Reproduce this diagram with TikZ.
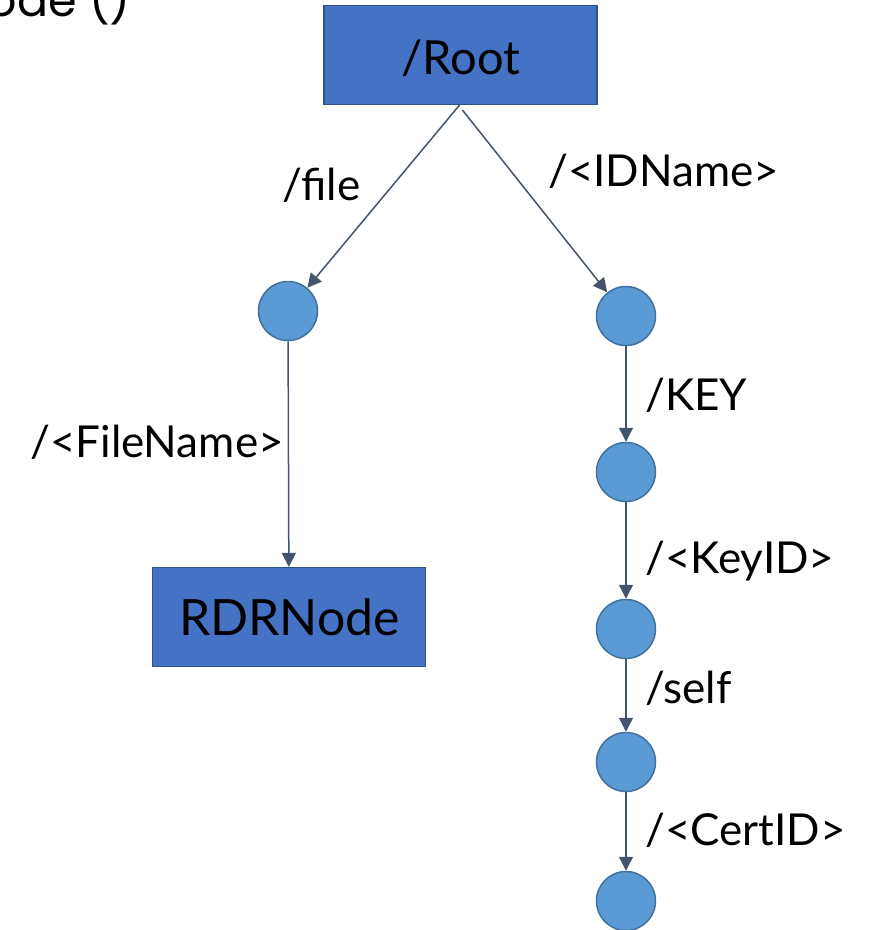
\documentclass[tikz,border=0pt]{standalone}
\usepackage{fontspec}
\setmainfont{Lato}
\newfontfamily\topfont{Poppins}
\usetikzlibrary{arrows.meta}
\definecolor{boxfill}{HTML}{4472C4}
\definecolor{boxline}{HTML}{2F528F}
\definecolor{circfill}{HTML}{5B9BD5}
\definecolor{circline}{HTML}{41719C}
\definecolor{arrowcol}{HTML}{44546A}
\tikzset{
  boxnode/.style={draw=boxline, fill=boxfill, line width=1.2pt, minimum width=273pt, minimum height=99pt, inner sep=0pt},
  circnode/.style={circle, draw=circline, fill=circfill, line width=1.5pt, minimum size=59pt, inner sep=0pt},
  conn/.style={draw=arrowcol, line width=1.5pt, -{Triangle[length=14pt,width=14pt]}},
  lbl/.style={anchor=base west, inner sep=0pt, font=\fontsize{44}{52}\selectfont},
  boxtext/.style={anchor=base, inner sep=0pt},
}
\begin{document}
\begin{tikzpicture}[x=1pt,y=-1pt]
\useasboundingbox (0,0) rectangle (872,930);
\node[anchor=base east, inner sep=0pt, font=\topfont\fontsize{46}{50}\selectfont] (topcode) at (131,16) {ode ()};
\node[boxnode] (root) at (460.5,55) {};
\node[boxtext, font=\fontsize{47}{54}\selectfont] (roottext) at (461,74) {/Root};
\node[circnode] (l1) at (288,311) {};
\node[boxnode] (rdr) at (289,617) {};
\node[boxtext, font=\fontsize{50}{58}\selectfont] (rdrtext) at (289.5,635) {RDRNode};
\node[circnode] (r1) at (626,316) {};
\node[circnode] (r2) at (626,472) {};
\node[circnode] (r3) at (626,629) {};
\node[circnode] (r4) at (626,762) {};
\node[circnode] (r5) at (626,901) {};
\draw[conn] ([xshift=-1pt]root.south) -- (l1);
\draw[conn] ([xshift=2pt,yshift=-5pt]root.south) -- (r1);
\draw[conn] (l1) -- (rdr);
\draw[conn] (r1) -- (r2);
\draw[conn] (r2) -- (r3);
\draw[conn] (r3) -- (r4);
\draw[conn] (r4) -- (r5);
\node[lbl] (lfile) at (282,200) {/file};
\node[lbl] (lid) at (548,186) {/<IDName>};
\node[lbl] (lfn) at (30,457) {/<FileName>};
\node[lbl] (lkey) at (645,410) {/KEY};
\node[lbl] (lkid) at (645,573) {/<KeyID>};
\node[lbl] (lself) at (645,703) {/self};
\node[lbl] (lcert) at (645,845) {/<CertID>};
\end{tikzpicture}
\end{document}
